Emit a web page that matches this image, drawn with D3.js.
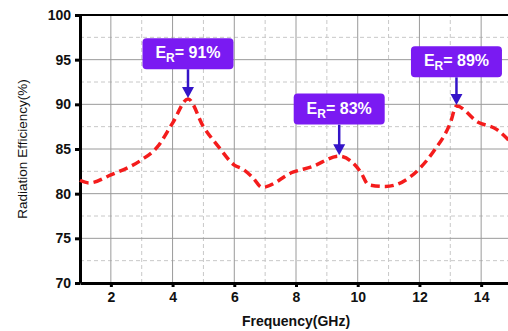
<!DOCTYPE html>
<html>
<head>
<meta charset="utf-8">
<script src="https://cdn.jsdelivr.net/npm/d3@7"></script>
<style>
  body { margin: 0; background: #fff; }
  svg { display: block; }
</style>
</head>
<body>
<div id="chart"></div>
<script>
// DATA
var freq = [1, 1.3, 2, 3, 3.5, 4, 4.5, 5, 5.5, 6, 6.3, 6.6, 6.9, 7.9, 8.5, 9.4, 10.1, 10.35, 10.9, 12, 12.45, 13, 13.2, 13.9, 14.5, 15];
var eff = [81.5, 81.2, 82.1, 83.8, 85.2, 87.9, 90.6, 87.5, 85.2, 83.2, 82.7, 81.8, 80.7, 82.4, 83.0, 84.2, 82.4, 81.0, 80.8, 82.8, 84.7, 87.9, 89.8, 88.0, 87.2, 85.6];
var xTicks = [2, 4, 6, 8, 10, 12, 14];
var yTicks = [70, 75, 80, 85, 90, 95, 100];
var notes = [
  {f: 4.5, v: 90.6, label: "91%"},
  {f: 9.4, v: 84.2, label: "83%"},
  {f: 13.2, v: 89.8, label: "89%"}
];
// box top, in value units
var noteTop = [97.4, 91.2, 96.5];

var W = 508, H = 331;
var margin = {left: 80, top: 15, bottom: 48};
var fontFamily = "Arial, 'Liberation Sans', sans-serif";

var svg = d3.select("#chart").append("svg")
  .attr("width", W).attr("height", H);

var x = d3.scaleLinear().domain([1, 15]).range([margin.left, 512]);
var y = d3.scaleLinear().domain([70, 100]).range([H - margin.bottom, margin.top]);

// minor grid (dashed)
svg.append("g").selectAll("line")
  .data(d3.range(3, 16, 2))
  .join("line")
  .attr("x1", d => x(d)).attr("x2", d => x(d))
  .attr("y1", y(70)).attr("y2", y(100))
  .attr("stroke", "#c8c8c8").attr("stroke-dasharray", "4,3");
svg.append("g").selectAll("line")
  .data(d3.range(72.5, 100, 5))
  .join("line")
  .attr("x1", x(1)).attr("x2", W)
  .attr("y1", d => y(d)).attr("y2", d => y(d))
  .attr("stroke", "#c8c8c8").attr("stroke-dasharray", "4,3");

// major grid
svg.append("g").selectAll("line")
  .data(xTicks)
  .join("line")
  .attr("x1", d => x(d)).attr("x2", d => x(d))
  .attr("y1", y(70)).attr("y2", y(100))
  .attr("stroke", "#9a9a9a").attr("stroke-width", 1);
svg.append("g").selectAll("line")
  .data(yTicks.slice(1, -1))
  .join("line")
  .attr("x1", x(1)).attr("x2", W)
  .attr("y1", d => y(d)).attr("y2", d => y(d))
  .attr("stroke", "#9a9a9a").attr("stroke-width", 1);

// top frame
svg.append("line")
  .attr("x1", x(1)).attr("x2", W)
  .attr("y1", y(100)).attr("y2", y(100))
  .attr("stroke", "#000").attr("stroke-width", 2);

// axes
var xAxis = svg.append("g")
  .attr("transform", `translate(0,${y(70)})`)
  .call(d3.axisBottom(x).tickValues(xTicks).tickSize(4).tickPadding(5).tickSizeOuter(0));
var yAxis = svg.append("g")
  .attr("transform", `translate(${x(1)},0)`)
  .call(d3.axisLeft(y).tickValues(yTicks).tickSize(5).tickPadding(4).tickSizeOuter(0));

[xAxis, yAxis].forEach(function(a) {
  a.select(".domain").attr("stroke", "#000").attr("stroke-width", 3);
  a.selectAll(".tick line").attr("stroke", "#000").attr("stroke-width", 3);
  a.selectAll(".tick text")
    .attr("font-family", fontFamily)
    .attr("font-weight", "bold")
    .attr("font-size", 14)
    .attr("fill", "#111");
});

// curve
var line = d3.line()
  .x((d, i) => x(freq[i]))
  .y(d => y(d))
  .curve(d3.curveMonotoneX);

svg.append("path")
  .datum(eff)
  .attr("d", line)
  .attr("fill", "none")
  .attr("stroke", "#f41c1c")
  .attr("stroke-width", 3.5)
  .attr("stroke-dasharray", "9,5");

// annotations
var boxW = 91, boxH = 31;
notes.forEach(function(n, i) {
  var cx = x(n.f);
  var top = y(noteTop[i]);
  var tip = y(n.v) - 1;
  var g = svg.append("g");
  g.append("line")
    .attr("x1", cx).attr("x2", cx)
    .attr("y1", top + boxH).attr("y2", tip - 8)
    .attr("stroke", "#3414c8").attr("stroke-width", 2.5);
  g.append("path")
    .attr("d", `M${cx - 6},${tip - 11} L${cx + 6},${tip - 11} L${cx},${tip} Z`)
    .attr("fill", "#3414c8");
  g.append("rect")
    .attr("x", cx - boxW / 2).attr("y", top)
    .attr("width", boxW).attr("height", boxH)
    .attr("rx", 4)
    .attr("fill", "#7a1af2");
  var t = g.append("text")
    .attr("x", cx).attr("y", top + 20)
    .attr("text-anchor", "middle")
    .attr("font-family", fontFamily)
    .attr("font-weight", "bold")
    .attr("font-size", 16)
    .attr("fill", "#fff");
  t.append("tspan").text("E");
  t.append("tspan").attr("dy", 4).attr("font-size", 12).text("R");
  t.append("tspan").attr("dy", -4).text("= " + n.label);
});

// axis titles
svg.append("text")
  .attr("x", 296).attr("y", 326)
  .attr("text-anchor", "middle")
  .attr("font-family", fontFamily)
  .attr("font-weight", "bold")
  .attr("font-size", 14)
  .attr("fill", "#111")
  .text("Frequency(GHz)");

svg.append("text")
  .attr("transform", `translate(27,${(y(70) + y(100)) / 2}) rotate(-90)`)
  .attr("text-anchor", "middle")
  .attr("font-family", fontFamily)
  .attr("font-size", 13.5)
  .attr("fill", "#111")
  .text("Radiation Efficiency(%)");
</script>
</body>
</html>
